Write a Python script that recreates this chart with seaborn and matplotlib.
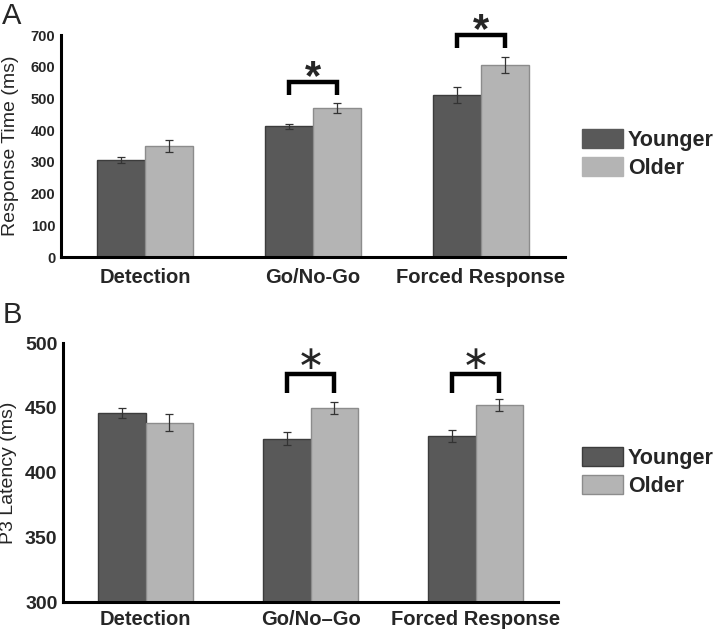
import numpy as np
import pandas as pd
import matplotlib
matplotlib.use("Agg")
import matplotlib.pyplot as plt
import seaborn as sns
from matplotlib.patches import Patch

# ---- data ----
tasks = ["Detection", "Go/No-Go", "Forced Response"]
groups = ["Younger", "Older"]
rt_younger = [306, 413, 511]
rt_older = [350, 470, 605]
rt_younger_err = [8, 8, 25]
rt_older_err = [18, 15, 26]
p3_younger = [446, 426, 428]
p3_older = [438.5, 450, 452]
p3_younger_err = [4, 5, 4.8]
p3_older_err = [6.5, 4.6, 4.5]
# significance brackets: (task index, bracket top, bracket leg bottom, star y)
sig_tasks = [1, 2]
rt_bracket_top = [552, 700]
rt_bracket_bottom = [511, 659]
rt_star_y = [564, 712]
p3_bracket_top = [476, 476]
p3_bracket_bottom = [461.6, 461.6]
p3_star_y = [487, 487]
xlabels_a = ["Detection", "Go/No-Go", "Forced Response"]
xlabels_b = ["Detection", "Go/No\u2013Go", "Forced Response"]

sns.set_style("white")
plt.rcParams["font.family"] = ["Liberation Sans", "DejaVu Sans"]

colors = {"Younger": "#595959", "Older": "#b4b4b4"}
edges = {"Younger": "#3c3c3c", "Older": "#8c8c8c"}

fig = plt.figure(figsize=(7.2, 6.3), dpi=100)
axA = fig.add_axes([0.0847, 0.592, 0.700, 0.3524])
axB = fig.add_axes([0.0875, 0.0444, 0.6875, 0.4111])


def draw(ax, yo, yol, eo, eol, ylim, yticks, ylabel, ytick_fs, xlabels,
         btop, bbot, stary, star_txt, star_kw, legend_edge, leg_anchor, xpad):
    df = pd.DataFrame({
        "task": tasks * 2,
        "group": ["Younger"] * 3 + ["Older"] * 3,
        "value": list(yo) + list(yol),
    })
    sns.barplot(data=df, x="task", y="value", hue="group", order=tasks,
                hue_order=groups, palette=colors, width=0.57, gap=0,
                errorbar=None, legend=False, ax=ax, linewidth=1.0,
                edgecolor="#444444")
    bars = ax.patches
    centers = {}
    for i, p in enumerate(bars[:6]):
        g = groups[i // 3]
        p.set_edgecolor(edges[g])
        centers[(g, i % 3)] = p.get_x() + p.get_width() / 2
    # error bars
    for g, vals, errs in (("Younger", yo, eo), ("Older", yol, eol)):
        xs = [centers[(g, k)] for k in range(3)]
        ax.errorbar(xs, vals, yerr=errs, fmt="none", ecolor="#333333",
                    elinewidth=0.9, capsize=3, capthick=0.9, zorder=5)
    # significance brackets
    for j, t in enumerate(sig_tasks):
        x1 = centers[("Younger", t)]
        x2 = centers[("Older", t)]
        ax.plot([x1, x1, x2, x2], [bbot[j], btop[j], btop[j], bbot[j]],
                color="black", lw=3.2, solid_joinstyle="miter",
                solid_capstyle="butt", clip_on=False, zorder=6)
        ax.text((x1 + x2) / 2, stary[j], star_txt, ha="center", va="center",
                clip_on=False, **star_kw)
    ax.set_xlim(-0.5, 2.5)
    ax.set_ylim(*ylim)
    ax.set_yticks(yticks)
    ax.set_yticklabels([str(v) for v in yticks], fontsize=ytick_fs,
                       fontweight="bold")
    ax.set_xticks(range(3))
    ax.set_xticklabels(xlabels, fontsize=14.5, fontweight="bold")
    ax.set_xlabel("")
    ax.set_ylabel(ylabel, fontsize=14)
    ax.tick_params(axis="y", length=0, pad=4)
    ax.tick_params(axis="x", length=0, pad=xpad)
    sns.despine(ax=ax)
    for s in ("left", "bottom"):
        ax.spines[s].set_linewidth(2.2)
        ax.spines[s].set_color("black")
    handles = [Patch(facecolor=colors[g],
                     edgecolor=edges[g] if legend_edge else colors[g],
                     linewidth=1.0) for g in groups]
    ax.legend(handles, groups, loc="center left", bbox_to_anchor=leg_anchor,
              frameon=False, prop={"size": 15.5, "weight": "bold"},
              borderpad=0, borderaxespad=0,
              handlelength=1.9, handleheight=0.95, handletextpad=0.22,
              labelspacing=0.3)


draw(axA, rt_younger, rt_older, rt_younger_err, rt_older_err, (0, 700),
     list(range(0, 701, 100)), "Response Time (ms)", 10.5, xlabels_a,
     rt_bracket_top, rt_bracket_bottom, rt_star_y, "*",
     dict(fontsize=30, fontweight="bold"), False, (1.034, 0.464), 8)
draw(axB, p3_younger, p3_older, p3_younger_err, p3_older_err, (300, 500),
     [300, 350, 400, 450, 500], "P3 Latency (ms)", 14, xlabels_b,
     p3_bracket_top, p3_bracket_bottom, p3_star_y, "\u2217",
     dict(fontsize=24, family=["DejaVu Sans"]), True, (1.0485, 0.502), 6)

axA.yaxis.set_label_coords(-0.083, 0.5)
axB.yaxis.set_label_coords(-0.092, 0.5)

fig.text(0.003, 0.997, "A", fontsize=21, va="top", ha="left")
fig.text(0.003, 0.522, "B", fontsize=21, va="top", ha="left")

fig.savefig("out.png", dpi=100)
